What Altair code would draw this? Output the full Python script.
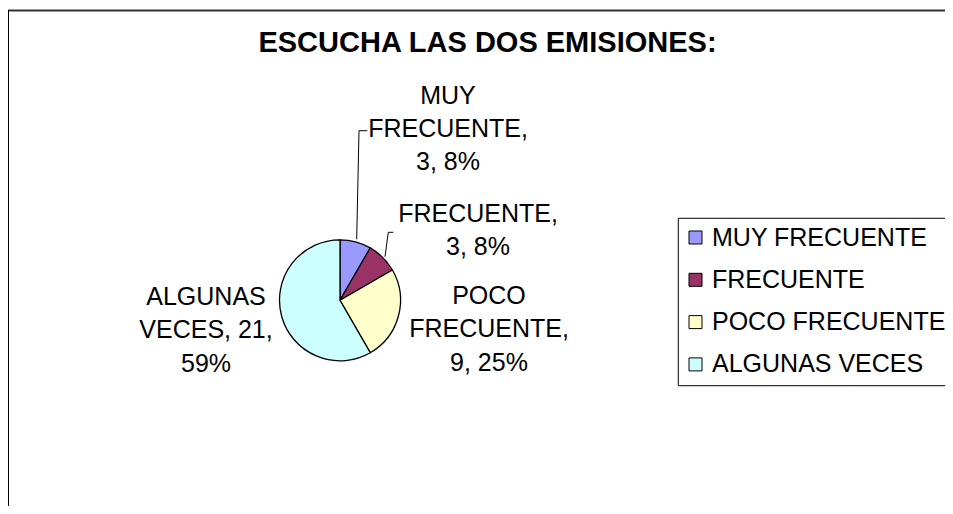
import altair as alt
import pandas as pd

# ---- data ----
categories = ["MUY FRECUENTE", "FRECUENTE", "POCO FRECUENTE", "ALGUNAS VECES"]
values = [3, 3, 9, 21]
percent_labels = [8, 8, 25, 59]
colors = ["#9999FF", "#993366", "#FFFFCC", "#CCFFFF"]
title_text = "ESCUCHA LAS DOS EMISIONES:"

# ---- layout (pixels, plot-area coordinates) ----
W, H = 937, 498
CX, CY, R = 332, 292.3, 60.5
FONT = "Liberation Sans"
label_anchor = [(440, 95.7), (470, 213.7), (481, 296), (198, 297)]
line_groups = [[1, 1, 2], [1, 2], [1, 1, 2], [1, 2, 1]]
leaders = {
    "MUY FRECUENTE": [(348.7, 231.3), (351, 122.7), (359.3, 122.7)],
    "FRECUENTE": [(377, 248.7), (380.3, 224.3), (385.3, 224.3)],
}

pie_df = pd.DataFrame({"category": categories, "value": values,
                       "idx": list(range(len(categories)))})


def make_label(cat, val, pct, groups):
    words = f"{cat}, {val}, {pct}%".split(" ")
    lines, i = [], 0
    for g in groups:
        lines.append(" ".join(words[i:i + g]))
        i += g
    return "\n".join(lines)


lab_df = pd.DataFrame({
    "text": [make_label(c, v, p, g) for c, v, p, g in
             zip(categories, values, percent_labels, line_groups)],
    "x": [a[0] for a in label_anchor],
    "y": [a[1] for a in label_anchor],
})

lead_rows = []
for k, pts in leaders.items():
    for j, (px, py) in enumerate(pts):
        lead_rows.append({"id": k, "j": j, "x": px, "y": py})
lead_df = pd.DataFrame(lead_rows)

color_scale = alt.Scale(domain=categories, range=colors)

pie = alt.Chart(pie_df).mark_arc(radius=R, stroke="black", strokeWidth=1.3).encode(
    theta=alt.Theta("value:Q", stack=True),
    order=alt.Order("idx:Q"),
    color=alt.Color("category:N", scale=color_scale,
                    legend=alt.Legend(orient="none", legendX=675, legendY=217,
                                      title=None, symbolType="square",
                                      symbolSize=169, symbolStrokeColor="black",
                                      symbolStrokeWidth=1, labelFontSize=25,
                                      labelFont=FONT, labelColor="black",
                                      labelOffset=4, rowPadding=16.3,
                                      padding=0, labelLimit=400)),
    x=alt.value(CX), y=alt.value(CY),
)

labels = alt.Chart(lab_df).mark_text(
    font=FONT, fontSize=25, lineBreak="\n", lineHeight=33.4,
    align="center", baseline="alphabetic", color="black"
).encode(
    x=alt.X("x:Q", scale=None, axis=None),
    y=alt.Y("y:Q", scale=None, axis=None),
    text="text:N",
)

lead = alt.Chart(lead_df).mark_line(color="black", strokeWidth=1).encode(
    x=alt.X("x:Q", scale=None, axis=None),
    y=alt.Y("y:Q", scale=None, axis=None),
    detail="id:N",
    order="j:Q",
)

title = alt.Chart(pd.DataFrame({"t": [title_text]})).mark_text(
    font=FONT, fontSize=29, fontWeight="bold", align="center",
    baseline="alphabetic", color="black"
).encode(text="t:N", x=alt.value(479.5), y=alt.value(43.8))

legend_box = alt.Chart(pd.DataFrame({"a": [0]})).mark_rect(
    filled=False, stroke="black", strokeWidth=1
).encode(x=alt.value(670.3), x2=alt.value(960), y=alt.value(210.3), y2=alt.value(377.7))

frame_top = alt.Chart(pd.DataFrame({"a": [0]})).mark_rule(color="#333333", strokeWidth=2).encode(
    x=alt.value(0), x2=alt.value(W), y=alt.value(2.5))
frame_left = alt.Chart(pd.DataFrame({"a": [0]})).mark_rule(color="black", strokeWidth=2).encode(
    x=alt.value(0), y=alt.value(2), y2=alt.value(H))

chart = alt.layer(frame_top, frame_left, title, legend_box, lead, pie, labels).properties(
    width=W, height=H, autosize=alt.AutoSizeParams(type="none"), padding=0,
    background="white",
).configure_view(stroke=None)

chart.save("out.html", embed_options={"renderer": "svg", "actions": False})
